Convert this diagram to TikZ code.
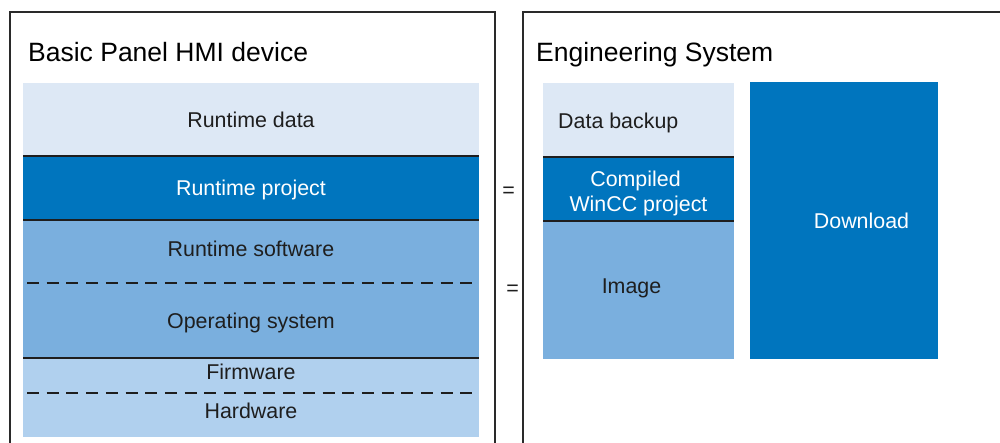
\documentclass[tikz,border=0pt]{standalone}
\usepackage{fontspec}
\setmainfont{Liberation Sans}
\definecolor{cTop}{HTML}{DDE8F5}
\definecolor{cDark}{HTML}{0075BE}
\definecolor{cMid}{HTML}{7AAFDE}
\definecolor{cLight}{HTML}{B0D0EE}
\definecolor{cText}{HTML}{1E1E1E}
\definecolor{cFrame}{HTML}{2A2A2A}
\tikzset{
  layer/.style={rectangle, inner sep=0pt, outer sep=0pt, anchor=north west, draw=none},
  lab/.style={inner sep=0pt, anchor=base, text=cText, font=\fontsize{21.4}{25}\selectfont},
  wlab/.style={lab, text=white},
  title/.style={inner sep=0pt, anchor=base west, text=black, font=\fontsize{26.5}{30}\selectfont},
  frame/.style={draw=cFrame, line width=1.5pt},
  sep/.style={draw=cText, line width=1.6pt},
  dsep/.style={draw=cText, line width=1.4pt, dash pattern=on 12pt off 7.7pt}
}
\begin{document}
\begin{tikzpicture}[x=1pt,y=-1pt]
\useasboundingbox (0,0) rectangle (1000,442);
% frames
\coordinate (lfA) at (10,460);
\coordinate (lfB) at (10,12);
\coordinate (lfC) at (495,12);
\coordinate (lfD) at (495,460);
\draw[frame] (lfA) -- (lfB) -- (lfC) -- (lfD);
\coordinate (rfA) at (523,460);
\coordinate (rfB) at (523,12);
\coordinate (rfC) at (1010,12);
\draw[frame] (rfA) -- (rfB) -- (rfC);
% titles
\node[title] (t1) at (28,61) {Basic Panel HMI device};
\node[title] (t2) at (536,61) {Engineering System};
% left stack
\node[layer, fill=cTop, minimum width=456, minimum height=73] (rd) at (23,83) {};
\node[layer, fill=cDark, minimum width=456, minimum height=64] (rp) at (23,156) {};
\node[layer, fill=cMid, minimum width=456, minimum height=63] (sw) at (23,220) {};
\node[layer, fill=cMid, minimum width=456, minimum height=75] (os) at (23,283) {};
\node[layer, fill=cLight, minimum width=456, minimum height=35] (fw) at (23,358) {};
\node[layer, fill=cLight, minimum width=456, minimum height=44] (hw) at (23,393) {};
\draw[sep] (rd.south west) -- (rd.south east);
\draw[sep] (rp.south west) -- (rp.south east);
\draw[sep] (os.south west) -- (os.south east);
\draw[dsep] ([xshift=4pt]sw.south west) -- (sw.south east);
\draw[dsep] ([xshift=4pt]fw.south west) -- ([xshift=-4pt]fw.south east);
\node[lab] (lrd) at (251,127) {Runtime data};
\node[wlab] (lrp) at (251,195) {Runtime project};
\node[lab] (lsw) at (251,256) {Runtime software};
\node[lab] (los) at (251,328) {Operating system};
\node[lab] (lfw) at (251,379) {Firmware};
\node[lab] (lhw) at (251,418) {Hardware};
% equals
\node[lab] (eq1) at (508.5,197) {=};
\node[lab] (eq2) at (512.5,295) {=};
% right stack
\node[layer, fill=cTop, minimum width=191, minimum height=74] (db) at (543,83) {};
\node[layer, fill=cDark, minimum width=191, minimum height=64] (cw) at (543,157) {};
\node[layer, fill=cMid, minimum width=191, minimum height=138] (im) at (543,221) {};
\draw[sep] (db.south west) -- (db.south east);
\draw[sep] (cw.south west) -- (cw.south east);
\node[layer, fill=cDark, minimum width=188, minimum height=277] (dl) at (750,82) {};
\node[lab, anchor=base west] (ldb) at (558,128) {Data backup};
\node[wlab] (lcw1) at (635.5,186) {Compiled};
\node[wlab] (lcw2) at (638.5,211) {WinCC project};
\node[lab] (lim) at (631.5,293) {Image};
\node[wlab] (ldl) at (861.5,228) {Download};
\end{tikzpicture}
\end{document}
